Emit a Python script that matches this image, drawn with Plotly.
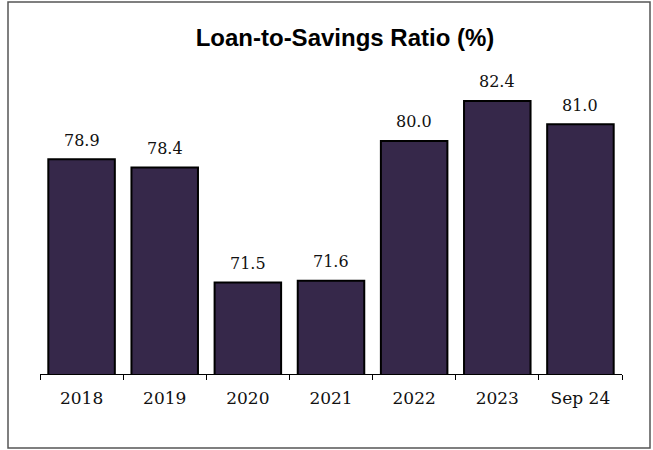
import plotly.graph_objects as go

categories = ["2018", "2019", "2020", "2021", "2022", "2023", "Sep 24"]
values = [78.9, 78.4, 71.5, 71.6, 80.0, 82.4, 81.0]
labels = [f"{v:.1f}" for v in values]

fig = go.Figure(go.Bar(
    x=categories, y=values,
    marker=dict(color="#36284a", line=dict(color="#000000", width=2)),
    cliponaxis=False,
))

# Category axes take the category index for annotation positions
for i, (v, t) in enumerate(zip(values, labels)):
    fig.add_annotation(x=i, y=v, text=t, showarrow=False, yanchor="middle",
                       yshift=19, font=dict(family="DejaVu Serif", size=16, color="#111"))

fig.update_layout(
    width=653, height=450,
    margin=dict(l=40, r=31, t=60, b=76),
    paper_bgcolor="white", plot_bgcolor="white",
    bargap=0.2,
    showlegend=False,
    title=dict(text="<b>Loan-to-Savings Ratio (%)</b>", x=345/653, xanchor="center",
               y=1 - 38/450, yanchor="middle",
               font=dict(family="Liberation Sans, Arial", size=24, color="#000")),
    xaxis=dict(type="category", categoryorder="array", categoryarray=categories,
               range=[-0.5, len(categories) - 0.5],
               showline=True, linecolor="#000", linewidth=1, ticks="outside",
               tickson="boundaries", ticklen=5, tickcolor="#000", tickwidth=1,
               ticklabelstandoff=9, tickangle=0,
               tickfont=dict(family="DejaVu Serif", size=17, color="#111"),
               showgrid=False, zeroline=False),
    yaxis=dict(range=[66, 84.86], visible=False, showgrid=False, zeroline=False),
    shapes=[dict(type="rect", xref="paper", yref="paper",
                 x0=(8 - 40) / 582, x1=(650 - 40) / 582,
                 y0=(374 - 448) / 314, y1=(374 - 2) / 314,
                 line=dict(color="#555555", width=1.5), fillcolor="rgba(0,0,0,0)")],
)

fig.write_html("out.html")
